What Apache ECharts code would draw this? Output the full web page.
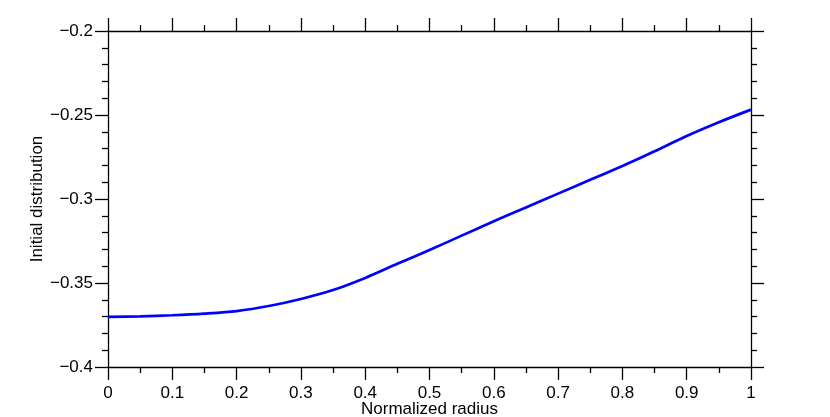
<!DOCTYPE html>
<html>
<head>
<meta charset="utf-8">
<script src="https://cdn.jsdelivr.net/npm/echarts@6/dist/echarts.min.js"></script>
<style>
  html, body { margin: 0; padding: 0; background: #fff; }
  #chart { width: 830px; height: 417px; }
</style>
</head>
<body>
<div id="chart"></div>
<script>
// normalized radius and initial distribution
var radius = [0, 0.05, 0.1, 0.15, 0.2, 0.25, 0.3, 0.35, 0.4, 0.45, 0.5,
  0.55, 0.6, 0.65, 0.7, 0.75, 0.8, 0.85, 0.9, 0.95, 1.0];
var dist = [-0.3702, -0.3699, -0.3692, -0.3682, -0.3667, -0.3637, -0.3595, -0.3542, -0.3470, -0.3386, -0.3304,
  -0.3218, -0.3133, -0.3050, -0.2968, -0.2886, -0.2803, -0.2716, -0.2625, -0.2543, -0.2468];

var xName = "Normalized radius";
var yName = "Initial distribution";

var font = "Liberation Sans";
var minus = function (v) { return String(+v.toFixed(2)).replace("-", "\u2212"); };

var points = [];
radius.forEach(function (r, i) {
  points.push([r, dist[i]]);
});

function axisBase(extra) {
  var a = {
    type: "value",
    axisLine: { show: true, onZero: false, lineStyle: { color: "#000", width: 1.3 } },
    axisTick: { show: true, inside: false, length: 13, lineStyle: { color: "#000", width: 1.3 } },
    splitLine: { show: false },
    minorSplitLine: { show: false }
  };
  return Object.assign(a, extra);
}

var chart = echarts.init(document.getElementById("chart"));
chart.setOption({
  animation: false,
  textStyle: { fontFamily: font },
  grid: { left: 108, right: 79, top: 31, bottom: 50, outerBoundsMode: "none", containLabel: false },
  xAxis: [
    axisBase({
      position: "bottom", min: 0, max: 1, interval: 0.1,
      minorTick: { show: true, splitNumber: 2, length: 6, lineStyle: { color: "#000", width: 1.3 } },
      axisLabel: { show: true, margin: 18, color: "#000", fontSize: 17, fontFamily: font, formatter: minus },
      name: xName, nameLocation: "middle", nameGap: 42, nameMoveOverlap: false,
      nameTextStyle: { color: "#000", fontSize: 17, fontFamily: font, verticalAlign: "middle" }
    }),
    axisBase({
      position: "top", min: 0, max: 1, interval: 0.1,
      minorTick: { show: true, splitNumber: 2, length: 6, lineStyle: { color: "#000", width: 1.3 } },
      axisLabel: { show: false }
    })
  ],
  yAxis: [
    axisBase({
      position: "left", min: -0.4, max: -0.2, interval: 0.05,
      minorTick: { show: true, splitNumber: 5, length: 6, lineStyle: { color: "#000", width: 1.3 } },
      axisLabel: { show: true, margin: 15, color: "#000", fontSize: 17, fontFamily: font, formatter: minus },
      name: yName, nameLocation: "middle", nameGap: 71, nameMoveOverlap: false,
      nameTextStyle: { color: "#000", fontSize: 17, fontFamily: font, verticalAlign: "middle" }
    }),
    axisBase({
      position: "right", min: -0.4, max: -0.2, interval: 0.05,
      minorTick: { show: true, splitNumber: 5, length: 6, lineStyle: { color: "#000", width: 1.3 } },
      axisLabel: { show: false }
    })
  ],
  series: [
    {
      type: "line",
      data: points,
      xAxisIndex: 0,
      yAxisIndex: 0,
      smooth: 0.3,
      showSymbol: false,
      lineStyle: { color: "#0000ff", width: 2.7 }
    }
  ]
});
</script>
</body>
</html>
